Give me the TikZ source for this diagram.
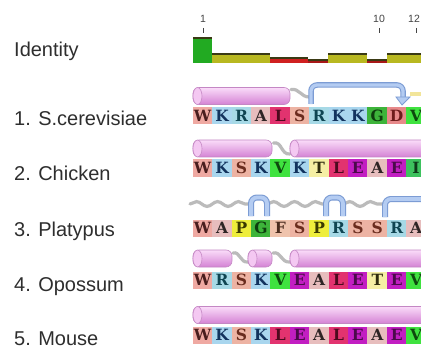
\documentclass[tikz,border=0pt]{standalone}
\usepackage{fontspec}
\setmainfont{Liberation Sans}
\newfontfamily\seqf{DejaVu Serif}
\usetikzlibrary{decorations.pathmorphing}
\definecolor{labc}{HTML}{2E2E2E}
\definecolor{numc}{HTML}{444444}
\definecolor{cW}{HTML}{EFA9A2}\definecolor{tW}{HTML}{4A1E1E}
\definecolor{cK}{HTML}{A9D6EE}\definecolor{tK}{HTML}{12335E}
\definecolor{cR}{HTML}{A6D9E6}\definecolor{tR}{HTML}{0F4552}
\definecolor{cA}{HTML}{E7BDBD}\definecolor{tA}{HTML}{2E2424}
\definecolor{cL}{HTML}{E2336F}\definecolor{tL}{HTML}{4C0A1E}
\definecolor{cS}{HTML}{EDB3A3}\definecolor{tS}{HTML}{6A2C1E}
\definecolor{cG}{HTML}{3DB43A}\definecolor{tG}{HTML}{0E3E0E}
\definecolor{cD}{HTML}{E7898A}\definecolor{tD}{HTML}{6E1C1C}
\definecolor{cV}{HTML}{3FE23F}\definecolor{tV}{HTML}{0E4A0E}
\definecolor{cT}{HTML}{F5EFA4}\definecolor{tT}{HTML}{2E2C0E}
\definecolor{cE}{HTML}{C21EC2}\definecolor{tE}{HTML}{4A0A4A}
\definecolor{cI}{HTML}{3DC25E}\definecolor{tI}{HTML}{0E3A1A}
\definecolor{cP}{HTML}{EEEE3C}\definecolor{tP}{HTML}{3A3A00}
\definecolor{cF}{HTML}{EFC3AC}\definecolor{tF}{HTML}{4A2C1E}
\definecolor{hT}{HTML}{FADCF9}\definecolor{hM}{HTML}{F09AEE}
\definecolor{hB}{HTML}{D482D4}\definecolor{hO}{HTML}{C487C4}
\definecolor{hE}{HTML}{F4C8F2}
\definecolor{coilc}{HTML}{BBBBBB}
\definecolor{turnO}{HTML}{7C9CD4}\definecolor{turnF}{HTML}{B4CCF2}
\definecolor{yelc}{HTML}{F2E59A}
\definecolor{idG}{HTML}{22AA22}\definecolor{idO}{HTML}{B8B820}
\definecolor{idR}{HTML}{D02020}\definecolor{idD}{HTML}{A81818}
\definecolor{idLine}{HTML}{3A3A14}
\newcommand\helixx[3]{%
  \shade[top color=hT, middle color=hM, bottom color=hB, rounded corners=6pt] (#1,#3-8.5) rectangle (#2,#3+8.5);
  \draw[draw=hO, line width=0.6pt, rounded corners=6pt] (#1,#3-8.5) rectangle (#2,#3+8.5);
  \filldraw[fill=hE, draw=hO, line width=0.6pt] (#1+4.5,#3) ellipse (4.5 and 8.5);
}
\newcommand\bumpp[2]{%
  \draw[line width=6pt, draw=turnO, rounded corners=6pt] (#1,216) -- (#1,197.5) -- (#2,197.5) -- (#2,216);
  \draw[line width=3.8pt, draw=turnF, rounded corners=6pt] (#1,216.2) -- (#1,197.5) -- (#2,197.5) -- (#2,216.2);
}
\newcommand\seqrow[3]{%
  \foreach \r [count=\i] in {#3} {\node[res=\r] (#1-\i) at ({193+(\i-0.5)*19.4},#2) {\r};}
}
\newcommand\idbar[4]{%
  \fill[#4] (#1,#3) rectangle (#2,63);
  \fill[idLine] (#1,#3) rectangle (#2,#3+1.6);
}
\begin{document}
\begin{tikzpicture}[x=1pt,y=-1pt,
  lab/.style={anchor=base west, inner sep=0, text=labc, font=\fontsize{20}{24}\selectfont},
  num/.style={inner sep=0, text=numc, font=\fontsize{10.5}{10.5}\selectfont},
  res/.style={fill=c#1, text=t#1, minimum width=19.9pt, minimum height=17pt, inner sep=0, font=\seqf\bfseries\fontsize{15.5}{15.5}\selectfont},
  coil/.style={draw=coilc, line width=3.2pt, line cap=round},
  wave/.style={coil, decorate, decoration={snake, amplitude=2.4pt, segment length=21pt}},
  tick/.style={draw=numc, line width=0.7pt}]
\useasboundingbox (0,0) rectangle (421,353);
\clip (0,0) rectangle (421,353);
\fill[white] (0,0) rectangle (421,353);
% labels
\node[lab] (lid) at (14,57) {Identity};
\node[lab] (l1) at (14,126) {1. S.cerevisiae};
\node[lab] (l2) at (14,180) {2. Chicken};
\node[lab] (l3) at (14,236) {3. Platypus};
\node[lab] (l4) at (14,291) {4. Opossum};
\node[lab] (l5) at (14,345) {5. Mouse};
% ruler
\node[num] (n1) at (203,19) {1};
\node[num] (n10) at (379,19) {10};
\node[num] (n12) at (414,19) {12};
\draw[tick] (203,28) -- (203,33);
\draw[tick] (379,28) -- (379,33);
\draw[tick] (416,28) -- (416,33);
% identity
\idbar{193}{212}{37}{idG}
\idbar{212}{270}{53}{idO}
\idbar{270}{308}{57}{idR}
\idbar{308}{328}{59}{idD}
\idbar{328}{367}{53}{idO}
\idbar{367}{387}{59}{idD}
\idbar{387}{421}{53}{idO}
% row 1 structure
\helixx{193}{290}{96}
\draw[coil] (291,89.5) .. controls (299,88) and (301,97) .. (309,97);
\draw[line width=5.5pt, draw=turnO, rounded corners=6pt] (311,104) -- (311,85) -- (403,85) -- (403,99);
\draw[line width=3.3pt, draw=turnF, rounded corners=6pt] (311,104.2) -- (311,85) -- (403,85) -- (403,99);
\filldraw[fill=turnF, draw=turnO, line width=0.8pt] (396,97) -- (410,97) -- (402,105) -- cycle;
\draw[line width=4pt, draw=yelc] (410,94.5) -- (425,94.5);
% row 2 structure
\helixx{193}{272}{148.5}
\draw[coil] (273.5,143) .. controls (282,141) and (281,155) .. (290,154);
\helixx{290}{432}{148.5}
% row 3 structure
\draw[wave] (190,204) -- (251,204);
\draw[wave] (267,204) -- (326,204);
\draw[wave] (343,204) -- (384,204);
\bumpp{251}{267}
\bumpp{326}{343}
\draw[line width=6pt, draw=turnO, rounded corners=6pt] (385,217) -- (385,199) -- (430,199);
\draw[line width=3.8pt, draw=turnF, rounded corners=6pt] (385,217.2) -- (385,199) -- (430,199);
% row 4 structure
\helixx{193}{232}{258.5}
\draw[coil] (233,253) .. controls (240,251) and (240,263) .. (248,262);
\helixx{248}{272}{258.5}
\draw[coil] (273,253) .. controls (281,251) and (281,263) .. (290,262);
\helixx{290}{432}{258.5}
% row 5 structure
\helixx{193}{432}{315}
% sequences
\seqrow{s1}{116}{W,K,R,A,L,S,R,K,K,G,D,V}
\seqrow{s2}{168}{W,K,S,K,V,K,T,L,E,A,E,I}
\seqrow{s3}{228}{W,A,P,G,F,S,P,R,S,S,R,A}
\seqrow{s4}{280}{W,R,S,K,V,E,A,L,E,T,E,V}
\seqrow{s5}{335}{W,K,S,K,L,E,A,L,E,A,E,V}
\end{tikzpicture}
\end{document}
